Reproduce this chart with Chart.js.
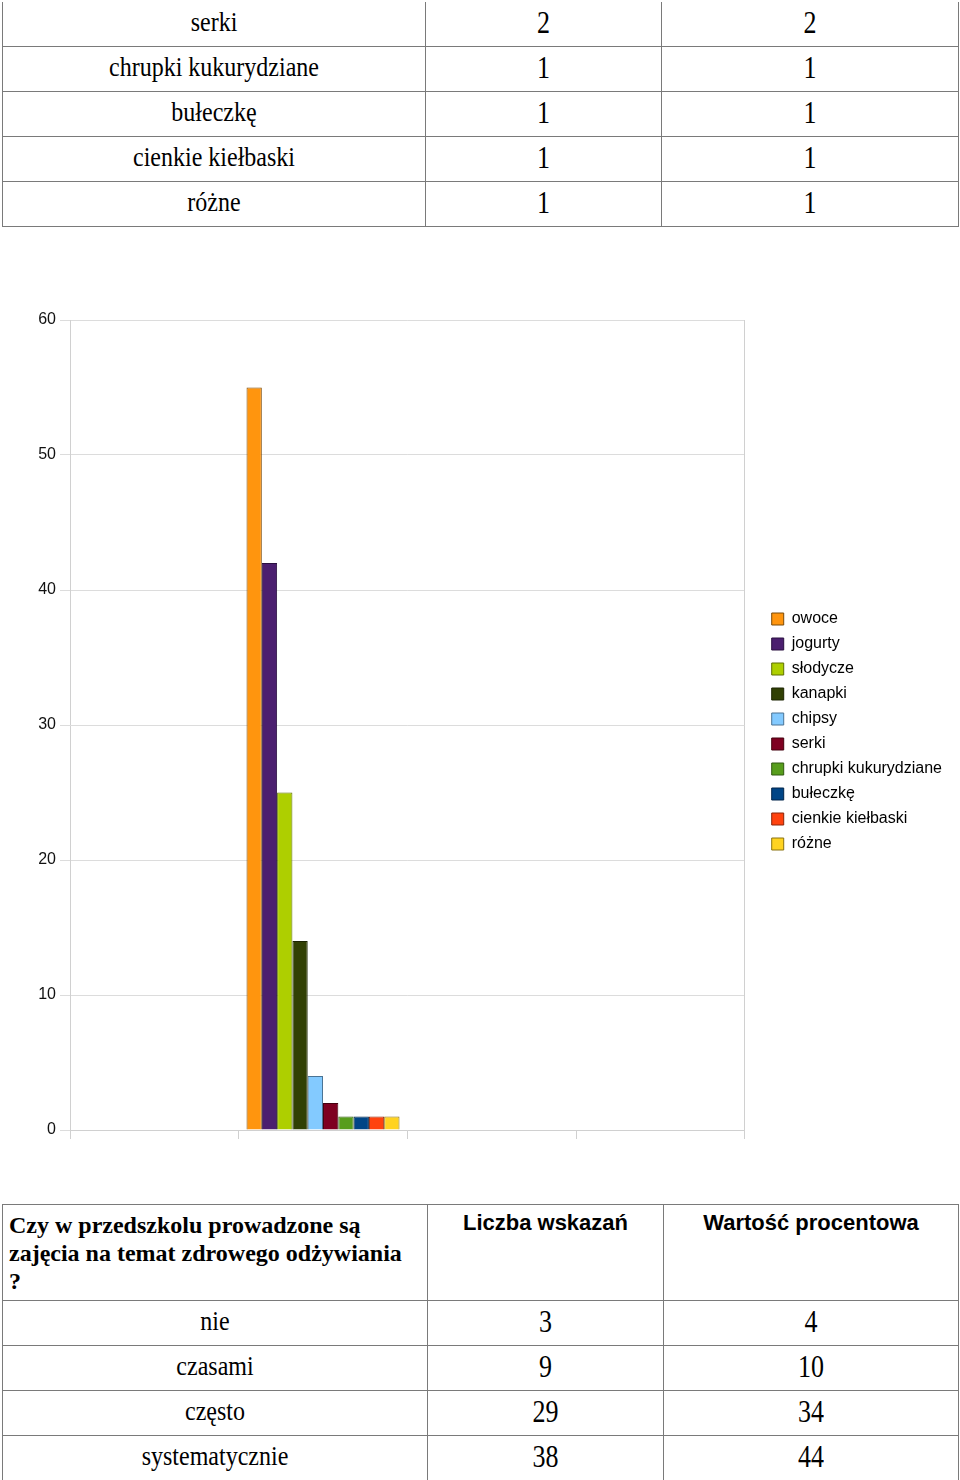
<!DOCTYPE html>
<html lang="pl">
<head>
<meta charset="utf-8">
<script src="https://cdn.jsdelivr.net/npm/chart.js@4/dist/chart.umd.min.js"></script>
<style>
  html, body { margin: 0; padding: 0; background: #fff; }
  body { width: 960px; height: 1480px; position: relative; overflow: hidden; }
  table { position: absolute; left: 2px; width: 956px; border-collapse: collapse; table-layout: fixed; }
  td { border: 1px solid #7a7a7a; padding: 0; text-align: center; vertical-align: middle; color: #000; }
  .serif { font-family: "Liberation Serif", "DejaVu Serif", serif; font-size: 24px; }
  .num { font-family: "Liberation Serif", "DejaVu Serif", serif; font-size: 26px; }
  .st { display: inline-block; transform: scaleY(1.18); }
  #top { top: 2px; }
  #top tr:first-child td { border-top: none; }
  #top td { height: 44px; }
  #bot { top: 1204px; }
  #bot td { height: 44px; }
  #bot tr.head td { height: 95px; vertical-align: top; }
  .hq { font-family: "Liberation Serif", "DejaVu Serif", serif; font-weight: bold; font-size: 24px; line-height: 28px; text-align: left; }
  .hq div { padding: 6px 0 0 6px; white-space: nowrap; }
  .hs { font-family: "Liberation Sans", Arial, sans-serif; font-weight: bold; font-size: 22px; }
  .hs div { padding-top: 5px; }
  #chartBox { position: absolute; left: 0; top: 240px; width: 960px; height: 920px; }
</style>
</head>
<body>

<table id="top">
  <colgroup><col style="width:423px"><col style="width:236px"><col style="width:297px"></colgroup>
  <tbody id="topBody"></tbody>
</table>

<div id="chartBox"><canvas id="c" width="960" height="920"></canvas></div>

<table id="bot">
  <colgroup><col style="width:425px"><col style="width:236px"><col style="width:295px"></colgroup>
  <tbody id="botBody"></tbody>
</table>

<script>
// ---------- data ----------
const topRowLabels = ["serki", "chrupki kukurydziane", "bułeczkę", "cienkie kiełbaski", "różne"];
const topCounts = [2, 1, 1, 1, 1];
const topPercents = [2, 1, 1, 1, 1];

const categories = ["", "", "", ""];
const barCategoryIndex = 1;
const seriesNames = ["owoce", "jogurty", "słodycze", "kanapki", "chipsy", "serki",
  "chrupki kukurydziane", "bułeczkę", "cienkie kiełbaski", "różne"];
const seriesValues = [55, 42, 25, 14, 4, 2, 1, 1, 1, 1];
const yTicks = [0, 10, 20, 30, 40, 50, 60];

const questionLines = ["Czy w przedszkolu prowadzone są", "zajęcia na temat zdrowego odżywiania", "?"];
const colHeaders = ["Liczba wskazań", "Wartość procentowa"];
const answerLabels = ["nie", "czasami", "często", "systematycznie"];
const answerCounts = [3, 9, 29, 38];
const answerPercents = [4, 10, 34, 44];

// ---------- styles ----------
const seriesColors = ["#ff950e", "#4b1f6f", "#aecf00", "#314004", "#83caff", "#7e0021",
  "#579d1c", "#004586", "#ff420e", "#ffd320"];
const seriesBorders = ["#7a4a08", "#2a1040", "#5e6f00", "#1c2402", "#4a7394", "#45000f",
  "#305810", "#00254a", "#8a2408", "#8a7210"];

// ---------- tables ----------
const tb = document.getElementById("topBody");
topRowLabels.forEach((lab, i) => {
  const tr = document.createElement("tr");
  tr.innerHTML = `<td class="serif"><span class="st" style="position:relative;top:-2px">${lab}</span></td>` +
    `<td class="num"><span class="st">${topCounts[i]}</span></td>` +
    `<td class="num"><span class="st">${topPercents[i]}</span></td>`;
  tb.appendChild(tr);
});

const bb = document.getElementById("botBody");
const hr = document.createElement("tr");
hr.className = "head";
hr.innerHTML = `<td class="hq"><div>${questionLines.join("<br>")}</div></td>` +
  `<td class="hs"><div>${colHeaders[0]}</div></td><td class="hs"><div>${colHeaders[1]}</div></td>`;
bb.appendChild(hr);
answerLabels.forEach((lab, i) => {
  const tr = document.createElement("tr");
  tr.innerHTML = `<td class="serif"><span class="st" style="position:relative;top:-2px">${lab}</span></td>` +
    `<td class="num"><span class="st">${answerCounts[i]}</span></td>` +
    `<td class="num"><span class="st">${answerPercents[i]}</span></td>`;
  bb.appendChild(tr);
});

// ---------- chart ----------
Chart.defaults.font.family = "'Liberation Sans', Arial, sans-serif";
const datasets = seriesNames.map((name, k) => ({
  label: name,
  data: categories.map((c, j) => (j === barCategoryIndex ? seriesValues[k] : null)),
  backgroundColor: seriesColors[k],
  borderColor: seriesBorders[k],
  borderWidth: 1,
  categoryPercentage: 0.907,
  barPercentage: 1.0
}));

new Chart(document.getElementById("c"), {
  type: "bar",
  data: { labels: categories, datasets },
  options: {
    responsive: false,
    animation: false,
    devicePixelRatio: 1,
    layout: { padding: { top: 80, left: 0, right: 8, bottom: 17 } },
    plugins: {
      tooltip: { enabled: false },
      legend: {
        position: "right",
        align: "center",
        maxWidth: 240,
        labels: {
          boxWidth: 12, boxHeight: 12, padding: 9,
          color: "#000",
          font: { size: 16 }
        }
      }
    },
    scales: {
      x: {
        offset: true,
        grid: { display: true, drawOnChartArea: false, offset: true, tickLength: 9, color: "#d0d0d0" },
        border: { display: true, color: "#d0d0d0" },
        ticks: { display: false },
        afterFit: s => { s.height = 13; }
      },
      y: {
        min: 0, max: 60,
        afterBuildTicks: s => { s.ticks = yTicks.map(v => ({ value: v })); },
        grid: { color: "#dcdcdc", tickLength: 10 },
        border: { display: true, color: "#d0d0d0" },
        ticks: { color: "#111", font: { size: 16 }, padding: 4 },
        afterFit: s => { s.width = 70; }
      },
      y2: {
        position: "right",
        display: true,
        grid: { display: false },
        border: { display: true, color: "#d0d0d0" },
        ticks: { display: false },
        afterFit: s => { s.width = 18; }
      }
    }
  }
});
</script>
</body>
</html>
